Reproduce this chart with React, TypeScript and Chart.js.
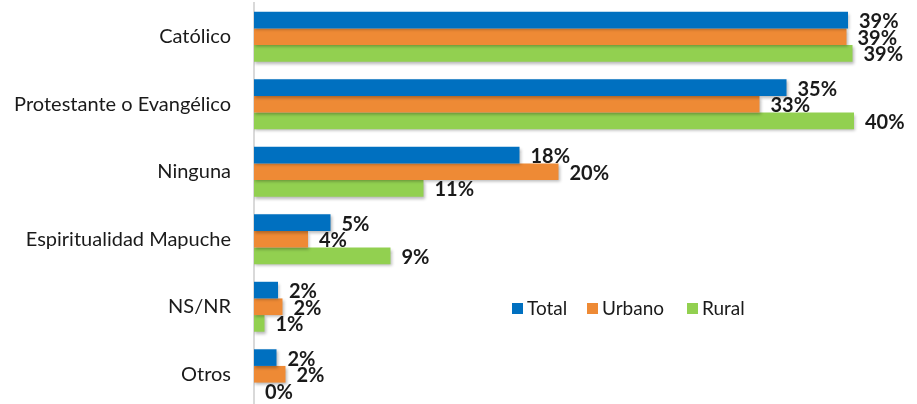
import React, { useEffect, useRef } from "react";
import { Chart, registerables } from "chart.js";

Chart.register(...registerables);

const categories = [
  "Católico",
  "Protestante o Evangélico",
  "Ninguna",
  "Espiritualidad Mapuche",
  "NS/NR",
  "Otros",
];
const seriesNames = ["Total", "Urbano", "Rural"];
const totalValues = [39.6, 35.5, 17.7, 5.1, 1.6, 1.5];
const urbanoValues = [39.5, 33.7, 20.3, 3.6, 1.9, 2.1];
const ruralValues = [39.9, 40.0, 11.3, 9.1, 0.7, 0];
const totalLabels = ["39%", "35%", "18%", "5%", "2%", "2%"];
const urbanoLabels = ["39%", "33%", "20%", "4%", "2%", "2%"];
const ruralLabels = ["39%", "40%", "11%", "9%", "1%", "0%"];
const colors = ["#0070C0", "#EE8A35", "#92D050"];

const FONT = "Lato, 'Noto Sans', sans-serif";

export default function App() {
  const ref = useRef<HTMLCanvasElement | null>(null);

  useEffect(() => {
    document.body.style.margin = "0";
    document.documentElement.style.overflow = "hidden";
    const canvas = ref.current;
    if (!canvas) return;
    const allLabels = [totalLabels, urbanoLabels, ruralLabels];

    const shadowPlugin = {
      id: "barShadow",
      beforeDatasetsDraw(chart: any) {
        const ctx = chart.ctx;
        ctx.save();
        ctx.shadowColor = "rgba(0,0,0,0.28)";
        ctx.shadowBlur = 3;
        ctx.shadowOffsetX = 1;
        ctx.shadowOffsetY = 2;
      },
      afterDatasetsDraw(chart: any) {
        chart.ctx.restore();
      },
    };

    const labelPlugin = {
      id: "valueLabels",
      afterDatasetsDraw(chart: any) {
        const ctx = chart.ctx;
        ctx.save();
        ctx.font = `bold 20px ${FONT}`;
        ctx.fillStyle = "#1a1a1a";
        ctx.textAlign = "left";
        ctx.textBaseline = "middle";
        chart.data.datasets.forEach((_: any, i: number) => {
          const meta = chart.getDatasetMeta(i);
          meta.data.forEach((el: any, j: number) => {
            ctx.fillText(allLabels[i][j], el.x + 11, el.y + 1.5);
          });
        });
        ctx.restore();
      },
    };

    const legendPlugin = {
      id: "customLegend",
      afterDraw(chart: any) {
        const ctx = chart.ctx;
        const xs = [512, 587, 687];
        const yc = 309;
        ctx.save();
        ctx.font = `19px ${FONT}`;
        ctx.textAlign = "left";
        ctx.textBaseline = "middle";
        seriesNames.forEach((name, i) => {
          ctx.fillStyle = colors[i];
          ctx.fillRect(xs[i], yc - 6, 11, 11);
          ctx.fillStyle = "#1a1a1a";
          ctx.fillText(name, xs[i] + 15, yc);
        });
        ctx.restore();
      },
    };

    const chart = new Chart(canvas, {
      type: "bar",
      data: {
        labels: categories,
        datasets: [
          { label: seriesNames[0], data: totalValues, backgroundColor: colors[0] },
          { label: seriesNames[1], data: urbanoValues, backgroundColor: colors[1] },
          { label: seriesNames[2], data: ruralValues, backgroundColor: colors[2] },
        ],
      },
      options: {
        indexAxis: "y",
        animation: false,
        responsive: false,
        maintainAspectRatio: false,
        datasets: {
          bar: { barPercentage: 1, categoryPercentage: 0.74 },
        },
        layout: { padding: { top: 3, bottom: 4, right: 3, left: 0 } },
        plugins: {
          legend: { display: false },
          tooltip: { enabled: false },
        },
        scales: {
          x: { display: false, min: 0, max: 44 },
          y: {
            afterFit: (s: any) => {
              s.width = 254;
              s.paddingTop = 0;
              s.paddingBottom = 0;
            },
            grid: { display: false },
            border: { display: true, color: "#D9D9D9", width: 2 },
            ticks: {
              padding: 15,
              color: "#1a1a1a",
              font: { family: FONT, size: 20 },
            },
          },
        },
      },
      plugins: [shadowPlugin, labelPlugin, legendPlugin],
    });
    return () => chart.destroy();
  }, []);

  return (
    <div style={{ width: 917, height: 412 }}>
      <canvas ref={ref} width={917} height={412} style={{ display: "block" }} />
    </div>
  );
}
